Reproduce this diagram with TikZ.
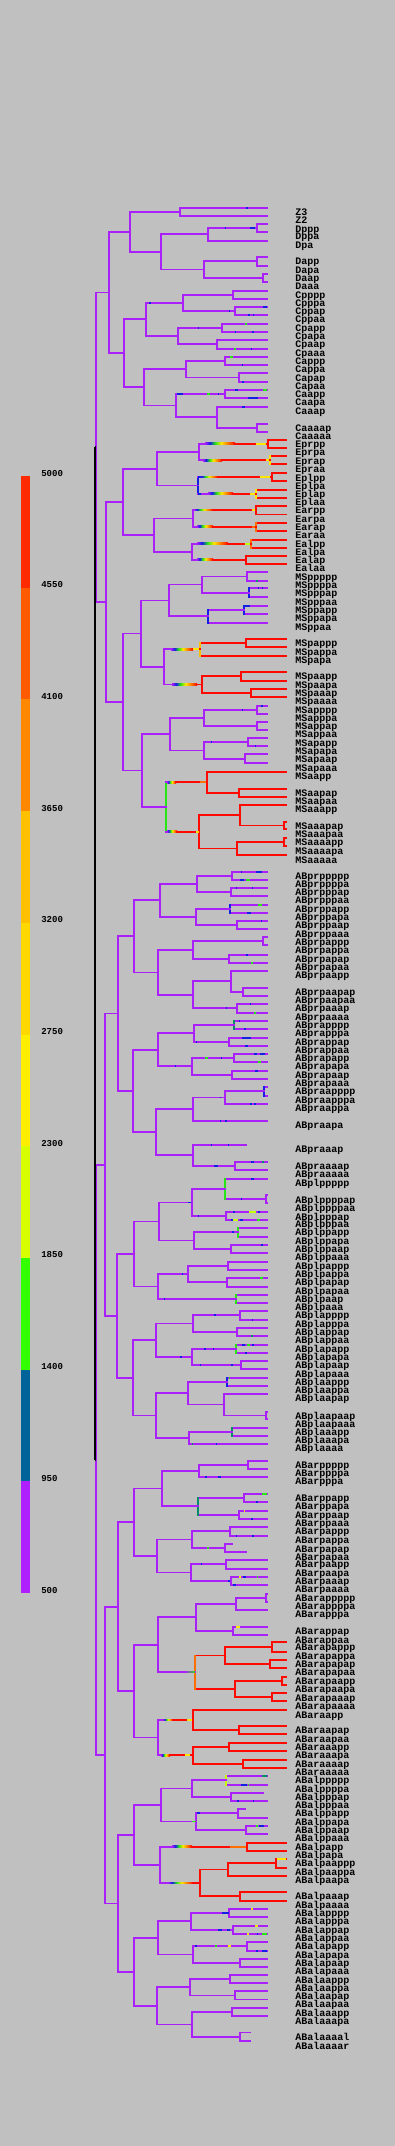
\documentclass[tikz,border=0pt]{standalone}
\usepackage{fontspec}
\usetikzlibrary{calc}
\newfontfamily\monofont{Liberation Mono}

\definecolor{bg}{RGB}{192,192,192}
\definecolor{cpu}{RGB}{170,32,250}
\definecolor{crd}{RGB}{255,10,0}
\definecolor{cbl}{RGB}{20,30,230}
\definecolor{cgn}{RGB}{40,230,20}
\definecolor{ctl}{RGB}{0,140,100}
\definecolor{cye}{RGB}{255,230,0}
\definecolor{cam}{RGB}{255,190,0}
\definecolor{cor}{RGB}{255,110,0}
\definecolor{cyg}{RGB}{200,255,0}
% colour scale, top to bottom
\definecolor{cb0}{RGB}{255,42,0}
\definecolor{cb1}{RGB}{255,90,0}
\definecolor{cb2}{RGB}{255,136,0}
\definecolor{cb3}{RGB}{255,192,0}
\definecolor{cb4}{RGB}{255,216,0}
\definecolor{cb5}{RGB}{255,238,0}
\definecolor{cb6}{RGB}{216,255,0}
\definecolor{cb7}{RGB}{51,255,0}
\definecolor{cb8}{RGB}{0,99,153}
\definecolor{cb9}{RGB}{176,32,255}

\pgfdeclarehorizontalshading{rainbow}{100bp}{color(0bp)=(cpu); color(25bp)=(cpu); color(33bp)=(cbl); color(42bp)=(cgn); color(52bp)=(cye); color(64bp)=(cor); color(75bp)=(crd); color(100bp)=(crd)}
\pgfdeclarehorizontalshading{pugn}{100bp}{color(0bp)=(cpu); color(25bp)=(cpu); color(75bp)=(cgn); color(100bp)=(cgn)}

\tikzset{
  br/.style={line width=1.25pt, line cap=rect},
  pu/.style={br, draw=cpu},
  rd/.style={br, draw=crd},
  bl/.style={br, draw=cbl},
  gn/.style={br, draw=cgn},
  tl/.style={br, draw=ctl},
  ye/.style={br, draw=cye},
  am/.style={br, draw=cam},
  or/.style={br, draw=cor},
  yg/.style={br, draw=cyg},
  blk/.style={line width=1.4pt, draw=black},
  lab/.style={anchor=base west, inner sep=0pt, font=\monofont\bfseries\fontsize{7.5}{9}\selectfont},
  num/.style={anchor=base west, inner sep=0pt, font=\monofont\bfseries\fontsize{6.8}{8}\selectfont},
}

% leaf: \lf[x end]{name}{y}
\newcommand{\lf}[3][267]{%
  \coordinate (#2) at (#1,#3);
  \node[lab] (t#2) at (295,#3+8) {#2};}
% branch point: \nd[vertical][horizontals]{name}{x}{child 1}{child 2}
\NewDocumentCommand{\nd}{O{pu} O{pu} m m m m}{%
  \path ($(#5)!.5!(#6)$) coordinate (#3m);
  \coordinate (#3) at (#3m -| #4,0);
  \draw[#2] (#3 |- #5) -- (#5);
  \draw[#2] (#3 |- #6) -- (#6);
  \draw[#1] (#3 |- #5) -- (#3 |- #6);}
% colour change along a branch: \grad[shading]{parent}{child}{x from}{x to}
\newcommand{\grad}[5][rainbow]{%
  \draw[pu] (#2 |- #3) -- (#4,0 |- #3);
  \shade[shading=#1] ($(#4,0 |- #3)+(0,-.83)$) rectangle ($(#5,0 |- #3)+(0,.83)$);
  \draw[rd] (#5,0 |- #3) -- (#3);}
% speck on a branch: \tk{child}{x from}{x to}{colour}
\newcommand{\tk}[4]{\draw[br, line cap=butt, draw=#4] (#2,0 |- #1) -- (#3,0 |- #1);}

\begin{document}
\begin{tikzpicture}[x=0.75pt,y=0.75pt,yscale=-1]
\fill[bg] (0,0) rectangle (395,2146);

% colour scale
\foreach \i in {0,...,9}
  \fill[cb\i] (21,{476+\i*111.7}) rectangle (30,{476+(\i+1)*111.7});
\foreach \v [count=\i from 0] in {5000,4550,...,500}
  \node[num] (s\i) at (41,{476+\i*111.7}) {\v};

% P2 lineages
\lf{Z3}{207.7} \lf{Z2}{215.7}
\lf{Dppp}{224} \lf{Dppa}{231.7} \lf{Dpa}{240.7}
\lf{Dapp}{256.7} \lf{Dapa}{265.7} \lf{Daap}{273.7} \lf{Daaa}{281.7}
\lf{Cpppp}{290.7} \lf{Cpppa}{298.7} \lf{Cppap}{306.7} \lf{Cppaa}{314.7}
\lf{Cpapp}{323.7} \lf{Cpapa}{331.7} \lf{Cpaap}{339.7} \lf{Cpaaa}{348.7}
\lf{Cappp}{356.7} \lf{Cappa}{364.7} \lf{Capap}{373.3} \lf{Capaa}{381.7}
\lf{Caapp}{389.7} \lf{Caapa}{397.7} \lf{Caaap}{406.7}
\lf{Caaaap}{423.7} \lf{Caaaaa}{431.7}
\nd{P4}{180}{Z3}{Z2}
\nd{Dpp}{256.7}{Dppp}{Dppa}
\nd{Dp}{207.7}{Dpp}{Dpa}
\nd{Dap}{256.7}{Dapp}{Dapa}
\nd{Daa}{263.3}{Daap}{Daaa}
\nd{Da}{204}{Dap}{Daa}
\nd{D}{161}{Dp}{Da}
\nd{P3}{130}{P4}{D}
\nd{Cppp}{233.3}{Cpppp}{Cpppa}
\nd{Cppa}{235.3}{Cppap}{Cppaa}
\nd{Cpp}{182.7}{Cppp}{Cppa}
\nd{Cpap}{222.3}{Cpapp}{Cpapa}
\nd{Cpaa}{217.3}{Cpaap}{Cpaaa}
\nd{Cpa}{177.7}{Cpap}{Cpaa}
\nd{Cp}{145.7}{Cpp}{Cpa}
\nd{Capp}{225}{Cappp}{Cappa}
\nd{Capa}{239}{Capap}{Capaa}
\nd{Cap}{185.7}{Capp}{Capa}
\nd{Caap}{225}{Caapp}{Caapa}
\nd{Caaaa}{256.7}{Caaaap}{Caaaaa}
\nd{Caaa}{216.7}{Caaap}{Caaaa}
\nd{Caa}{175.7}{Caap}{Caaa}
\nd{Ca}{144.3}{Cap}{Caa}
\nd{C}{124}{Cp}{Ca}
\nd{P2}{109}{P3}{C}
\tk{Z3}{246}{247.5}{cbl} \tk{Dpp}{224.5}{226}{cbl} \tk{Dpp}{250}{255}{cbl}
\tk{Cpp}{149}{151}{cbl} \tk{Cppa}{228.5}{230}{cbl} \tk{Cppap}{263}{267}{cbl}
\tk{Cppaa}{248}{250}{cbl} \tk{Cppaa}{253}{254}{cbl} \tk{Cpap}{198}{199}{cbl}
\tk{Cpapp}{245}{247}{cgn} \tk{Cpapa}{235}{236}{cbl} \tk{Cpapa}{252}{254}{cbl}
\tk{Cpaaa}{233.5}{235.5}{cgn} \tk{Cpaaa}{250.5}{252}{cbl}
\tk{Cappp}{230}{233}{cgn} \tk{Cappa}{241.5}{243}{cbl} \tk{Capaa}{242}{244}{cbl}
\tk{Caap}{177}{183}{cbl} \tk{Caap}{207}{209.5}{cgn} \tk{Caap}{218}{219}{cbl}
\tk{Caapp}{235}{238}{cbl} \tk{Caapp}{263}{267}{cgn} \tk{Caapa}{248}{258}{cbl}
\tk{Caaap}{242}{245}{cbl}

% E
\lf[286]{Eprpp}{439.7} \lf[286]{Eprpa}{447.7} \lf[286]{Eprap}{456.3} \lf[286]{Epraa}{464.3}
\lf[286]{Eplpp}{473} \lf[286]{Eplpa}{481} \lf[286]{Eplap}{489.7} \lf[286]{Eplaa}{497.7}
\lf[286]{Earpp}{505.7} \lf[286]{Earpa}{514.5} \lf[286]{Earap}{522.7} \lf[286]{Earaa}{530.7}
\lf[286]{Ealpp}{539.7} \lf[286]{Ealpa}{547.7} \lf[286]{Ealap}{555.7} \lf[286]{Ealaa}{563.7}
\nd[rd][rd]{Eprp}{267.7}{Eprpp}{Eprpa}
\nd[ye][rd]{Epra}{270}{Eprap}{Epraa}
\nd{Epr}{199.3}{Eprp}{Epra}
\nd[rd][rd]{Eplp}{271.7}{Eplpp}{Eplpa}
\nd[ye][rd]{Epla}{256}{Eplap}{Eplaa}
\nd[bl]{Epl}{197.7}{Eplp}{Epla}
\nd{Ep}{156.7}{Epr}{Epl}
\nd[rd][rd]{Earp}{256}{Earpp}{Earpa}
\nd[or][rd]{Eara}{256}{Earap}{Earaa}
\nd{Ear}{192.7}{Earp}{Eara}
\nd[or][rd]{Ealp}{250.7}{Ealpp}{Ealpa}
\nd[rd][rd]{Eala}{245.7}{Ealap}{Ealaa}
\nd{Eal}{191.7}{Ealp}{Eala}
\nd{Ea}{154}{Ear}{Eal}
\nd{E}{122.7}{Ep}{Ea}
\grad{Epr}{Eprp}{205}{235}
\grad{Epr}{Epra}{203}{222}
\grad{Epl}{Eplp}{199}{218}
\grad{Epl}{Epla}{208}{233}
\grad{Ear}{Earp}{194}{213}
\grad{Ear}{Eara}{197}{213}
\grad{Eal}{Ealp}{197}{228}
\grad{Eal}{Eala}{197}{213}
\tk{Eplp}{198}{200.5}{cbl} \tk{Epla}{198}{200.5}{cbl}
\tk{Eprp}{256}{266}{cye} \tk{Epra}{266}{269}{cye} \tk{Eplp}{260}{270}{cye}
\tk{Epla}{250}{255}{cye} \tk{Earp}{252}{255}{cye} \tk{Eara}{252}{255}{cor}
\tk{Ealp}{245}{249.5}{cyg}

% MS
\lf{MSppppp}{572.3} \lf{MSppppa}{580.7} \lf{MSpppap}{588.3} \lf{MSpppaa}{597.3}
\lf{MSppapp}{605.7} \lf{MSppapa}{613.7} \lf{MSppaa}{622.7}
\lf[286]{MSpappp}{638.7} \lf[286]{MSpappa}{647} \lf[286]{MSpapa}{655.7}
\lf[286]{MSpaapp}{671.7} \lf[286]{MSpaapa}{680.7} \lf[286]{MSpaaap}{688.7} \lf[286]{MSpaaaa}{696.7}
\lf{MSapppp}{705.7} \lf{MSapppa}{713.7} \lf{MSappap}{721.7} \lf{MSappaa}{729.7}
\lf{MSapapp}{738.3} \lf{MSapapa}{746.3} \lf{MSapaap}{754.3} \lf{MSapaaa}{763.3}
\lf[286]{MSaapp}{771.7} \lf[286]{MSaapap}{788.7} \lf[286]{MSaapaa}{796.7}
\lf[286]{MSaaapp}{804.7} \lf[286]{MSaaapap}{821.7} \lf[286]{MSaaapaa}{829.3}
\lf[286]{MSaaaapp}{837.7} \lf[286]{MSaaaapa}{846} \lf[286]{MSaaaaa}{855}
\nd{MSpppp}{246.7}{MSppppp}{MSppppa}
\nd[bl]{MSpppa}{248.7}{MSpppap}{MSpppaa}
\nd{MSppp}{201.7}{MSpppp}{MSpppa}
\nd[bl]{MSppap}{244.3}{MSppapp}{MSppapa}
\nd[bl]{MSppa}{208.3}{MSppap}{MSppaa}
\nd{MSpp}{169}{MSppp}{MSppa}
\nd[rd][rd]{MSpapp}{245.7}{MSpappp}{MSpappa}
\nd[am][rd]{MSpap}{200}{MSpapp}{MSpapa}
\nd[rd][rd]{MSpaap}{241}{MSpaapp}{MSpaapa}
\nd[rd][rd]{MSpaaa}{250.7}{MSpaaap}{MSpaaaa}
\nd[rd][rd]{MSpaa}{201.7}{MSpaap}{MSpaaa}
\nd{MSpa}{164.3}{MSpap}{MSpaa}
\nd{MSp}{141}{MSpp}{MSpa}
\nd{MSappp}{256.7}{MSapppp}{MSapppa}
\nd{MSappa}{256.7}{MSappap}{MSappaa}
\nd{MSapp}{204.3}{MSappp}{MSappa}
\nd{MSapap}{247.7}{MSapapp}{MSapapa}
\nd{MSapaa}{245}{MSapaap}{MSapaaa}
\nd{MSapa}{204.3}{MSapap}{MSapaa}
\nd{MSap}{170}{MSapp}{MSapa}
\nd[rd][rd]{MSaapa}{239}{MSaapap}{MSaapaa}
\nd[rd][rd]{MSaap}{206.7}{MSaapp}{MSaapa}
\nd[rd][rd]{MSaaapa}{284.3}{MSaaapap}{MSaaapaa}
\nd[rd][rd]{MSaaap}{240}{MSaaapp}{MSaaapa}
\nd[rd][rd]{MSaaaap}{284.3}{MSaaaapp}{MSaaaapa}
\nd[rd][rd]{MSaaaa}{236.7}{MSaaaap}{MSaaaaa}
\nd[rd][rd]{MSaaa}{199.3}{MSaaap}{MSaaaa}
\nd[gn]{MSaa}{165.7}{MSaap}{MSaaa}
\nd{MSa}{141.7}{MSap}{MSaa}
\nd{MS}{122.7}{MSp}{MSa}
\grad{MSpa}{MSpap}{171}{193}
\grad{MSpa}{MSpaa}{172}{197}
\grad{MSaa}{MSaap}{167}{176}
\grad{MSaa}{MSaaa}{167}{177}
\tk{MSpap}{193}{199}{cye} \tk{MSaap}{200}{206}{cor} \tk{MSaaa}{196}{199}{cye}
\tk{MSppppa}{256}{258}{ctl} \tk{MSpppap}{257.5}{259}{cbl} \tk{MSpppap}{262}{263}{cbl}
\tk{MSppapp}{245}{250}{cbl} \tk{MSapppp}{261}{263}{cbl} \tk{MSappp}{242}{243}{cbl}
\tk{MSapap}{211}{212}{cbl} \tk{MSapapa}{255}{256}{cbl}
\nd{EMS}{105.7}{E}{MS}
\nd{P1}{96}{P2}{EMS}

% ABpr
\lf{ABprppppp}{871.7} \lf{ABprppppa}{879.7} \lf{ABprpppap}{887.7} \lf{ABprpppaa}{895.7}
\lf{ABprppapp}{904.7} \lf{ABprppapa}{912.7} \lf{ABprppaap}{920.7} \lf{ABprppaaa}{929}
\lf{ABprpappp}{937.3} \lf{ABprpappa}{945.3} \lf{ABprpapap}{954.7} \lf{ABprpapaa}{962.7}
\lf{ABprpaapp}{970.7} \lf{ABprpaapap}{987.7} \lf{ABprpaapaa}{995.7}
\lf{ABprpaaap}{1003.7} \lf{ABprpaaaa}{1012.7}
\lf{ABprapppp}{1020.7} \lf{ABprapppa}{1028.7} \lf{ABprappap}{1037.7} \lf{ABprappaa}{1045.7}
\lf{ABprapapp}{1053.7} \lf{ABprapapa}{1061.7} \lf{ABprapaap}{1070.7} \lf{ABprapaaa}{1078.7}
\lf{ABpraapppp}{1086.7} \lf{ABpraapppa}{1095.7} \lf{ABpraappa}{1103.7} \lf{ABpraapa}{1120.7}
\lf[245.7]{ABpraaap}{1144.7} \lf{ABpraaaap}{1161.7} \lf{ABpraaaaa}{1169.7}
\nd{ABprpppp}{231.7}{ABprppppp}{ABprppppa}
\nd{ABprpppa}{230.7}{ABprpppap}{ABprpppaa}
\nd{ABprppp}{196.7}{ABprpppp}{ABprpppa}
\nd[bl]{ABprppap}{230}{ABprppapp}{ABprppapa}
\nd{ABprppaa}{236.7}{ABprppaap}{ABprppaaa}
\nd{ABprppa}{195.7}{ABprppap}{ABprppaa}
\nd{ABprpp}{160}{ABprppp}{ABprppa}
\nd{ABprpapp}{263.3}{ABprpappp}{ABprpappa}
\nd{ABprpapa}{228.7}{ABprpapap}{ABprpapaa}
\nd{ABprpap}{192.7}{ABprpapp}{ABprpapa}
\nd{ABprpaapa}{242.7}{ABprpaapap}{ABprpaapaa}
\nd{ABprpaap}{230.7}{ABprpaapp}{ABprpaapa}
\nd{ABprpaaa}{236.7}{ABprpaaap}{ABprpaaaa}
\nd{ABprpaa}{192.7}{ABprpaap}{ABprpaaa}
\nd{ABprpa}{157.7}{ABprpap}{ABprpaa}
\nd{ABprp}{134}{ABprpp}{ABprpa}
\nd[tl]{ABprappp}{234.3}{ABprapppp}{ABprapppa}
\nd{ABprappa}{228.7}{ABprappap}{ABprappaa}
\nd{ABprapp}{194.3}{ABprappp}{ABprappa}
\nd{ABprapap}{234.3}{ABprapapp}{ABprapapa}
\nd{ABprapaa}{231.7}{ABprapaap}{ABprapaaa}
\nd{ABprapa}{191.7}{ABprapap}{ABprapaa}
\nd{ABprap}{157.7}{ABprapp}{ABprapa}
\nd[bl]{ABpraappp}{264.3}{ABpraapppp}{ABpraapppa}
\nd{ABpraapp}{225}{ABpraappp}{ABpraappa}
\nd{ABpraap}{192.7}{ABpraapp}{ABpraapa}
\nd{ABpraaaa}{235}{ABpraaaap}{ABpraaaaa}
\nd{ABpraaa}{193.3}{ABpraaap}{ABpraaaa}
\nd{ABpraa}{155.7}{ABpraap}{ABpraaa}
\nd{ABpra}{133.3}{ABprap}{ABpraa}
\nd{ABpr}{117.7}{ABprp}{ABpra}
\tk{ABprppppp}{241}{242}{cbl} \tk{ABprppppp}{256}{262}{cbl}
\tk{ABprppppa}{240}{244}{cbl} \tk{ABprppppa}{246}{250}{cgn}
\tk{ABprpppap}{236}{237}{cbl} \tk{ABprpppap}{252}{253}{cbl}
\tk{ABprppapp}{258}{262}{cgn} \tk{ABprppapa}{247}{251}{cbl} \tk{ABprppaap}{261}{262}{cbl}
\tk{ABprpapap}{246}{248}{cbl} \tk{ABprpapaa}{251}{253}{cgn}
\tk{ABprpaaa}{225.5}{227}{cbl} \tk{ABprpaaap}{250}{251}{cbl} \tk{ABprpaaaa}{254}{255.5}{cgn}
\tk{ABprapppp}{239}{240}{cbl} \tk{ABprapppa}{244}{246}{cbl} \tk{ABprappa}{196}{197}{cbl}
\tk{ABprappap}{242}{251}{cbl} \tk{ABprappaa}{245}{248}{cbl} \tk{ABprapa}{175}{176}{cbl}
\tk{ABprapap}{205}{208}{cgn} \tk{ABprapap}{221}{222}{cbl}
\tk{ABprapapp}{254}{257}{cbl} \tk{ABprapapp}{260}{265}{cbl} \tk{ABprapapa}{258}{261}{cgn}
\tk{ABprapaap}{255}{258}{cbl} \tk{ABpraapp}{220}{221}{cbl}
\tk{ABpraappa}{250}{252}{cbl} \tk{ABpraappa}{254}{256}{cbl}
\tk{ABpraapa}{220}{221}{cbl} \tk{ABpraapa}{225}{227}{cbl}
\tk{ABpraaap}{211}{212}{cbl} \tk{ABpraaap}{228}{229}{cbl}
\tk{ABpraaaap}{251}{254}{cbl} \tk{ABpraaaap}{262}{264}{ctl} \tk{ABpraaaa}{214}{218}{cbl}

% ABpl
\lf{ABplppppp}{1178.7} \lf{ABplppppap}{1195.3} \lf{ABplppppaa}{1203.3}
\lf{ABplpppap}{1212} \lf{ABplpppaa}{1219.7}
\lf{ABplppapp}{1227.7} \lf{ABplppapa}{1236.7} \lf{ABplppaap}{1244.7} \lf{ABplppaaa}{1252.7}
\lf{ABplpappp}{1261.7} \lf{ABplpappa}{1269.7} \lf{ABplpapap}{1277.7} \lf{ABplpapaa}{1286.7}
\lf{ABplpaap}{1294.7} \lf{ABplpaaa}{1302.7}
\lf{ABplapppp}{1310.7} \lf{ABplapppa}{1319.7} \lf{ABplappap}{1327.7} \lf{ABplappaa}{1335.7}
\lf{ABplapapp}{1344.7} \lf{ABplapapa}{1352.7} \lf{ABplapaap}{1360.7} \lf{ABplapaaa}{1369.3}
\lf{ABplaappp}{1377.7} \lf{ABplaappa}{1385.7} \lf{ABplaapap}{1393.7}
\lf{ABplaapaap}{1411.7} \lf{ABplaapaaa}{1419}
\lf{ABplaaapp}{1427.7} \lf{ABplaaapa}{1435.7} \lf{ABplaaaa}{1443.7}
\nd{ABplppppa}{266}{ABplppppap}{ABplppppaa}
\nd[gn]{ABplpppp}{225}{ABplppppp}{ABplppppa}
\nd{ABplpppa}{225.7}{ABplpppap}{ABplpppaa}
\nd{ABplppp}{191.7}{ABplpppp}{ABplpppa}
\nd[gn]{ABplppap}{237.7}{ABplppapp}{ABplppapa}
\nd{ABplppaa}{230.7}{ABplppaap}{ABplppaaa}
\nd{ABplppa}{194.3}{ABplppap}{ABplppaa}
\nd{ABplpp}{159}{ABplppp}{ABplppa}
\nd{ABplpapp}{227.7}{ABplpappp}{ABplpappa}
\nd{ABplpapa}{226.7}{ABplpapap}{ABplpapaa}
\nd{ABplpap}{187.7}{ABplpapp}{ABplpapa}
\nd[gn]{ABplpaa}{236}{ABplpaap}{ABplpaaa}
\nd{ABplpa}{157.7}{ABplpap}{ABplpaa}
\nd{ABplp}{134}{ABplpp}{ABplpa}
\nd{ABplappp}{240}{ABplapppp}{ABplapppa}
\nd{ABplappa}{236.7}{ABplappap}{ABplappaa}
\nd{ABplapp}{193.3}{ABplappp}{ABplappa}
\nd[gn]{ABplapap}{235.7}{ABplapapp}{ABplapapa}
\nd{ABplapaa}{240.7}{ABplapaap}{ABplapaaa}
\nd{ABplapa}{191.7}{ABplapap}{ABplapaa}
\nd{ABplap}{155.7}{ABplapp}{ABplapa}
\nd[bl]{ABplaapp}{226.7}{ABplaappp}{ABplaappa}
\nd{ABplaapaa}{265.7}{ABplaapaap}{ABplaapaaa}
\nd{ABplaapa}{224.3}{ABplaapap}{ABplaapaa}
\nd{ABplaap}{187.7}{ABplaapp}{ABplaapa}
\nd[tl]{ABplaaap}{231.7}{ABplaaapp}{ABplaaapa}
\nd{ABplaaa}{189.3}{ABplaaap}{ABplaaaa}
\nd{ABplaa}{155.7}{ABplaap}{ABplaaa}
\nd{ABpla}{132.7}{ABplap}{ABplaa}
\nd{ABpl}{116.7}{ABplp}{ABpla}
\nd{ABp}{105}{ABpr}{ABpl}
\tk{ABplppp}{188}{191}{cbl} \tk{ABplppppp}{251}{254}{cbl} \tk{ABplppppa}{241}{242}{cbl}
\tk{ABplpppap}{233}{235}{cbl} \tk{ABplpppap}{249}{256}{cyg} \tk{ABplpppap}{258}{260}{cbl}
\tk{ABplpppaa}{231}{233}{cbl} \tk{ABplpppaa}{233}{238}{cyg} \tk{ABplpppaa}{240}{243}{cbl}
\tk{ABplpppaa}{257}{260}{cgn} \tk{ABplpppa}{198}{199}{cbl} \tk{ABplppap}{232}{234}{cbl}
\tk{ABplppaap}{261}{263}{cbl} \tk{ABplpapap}{260}{263}{cgn} \tk{ABplpap}{182}{183}{cbl}
\tk{ABplpaa}{164}{165}{cbl} \tk{ABplappp}{214}{216}{cbl} \tk{ABplapppa}{252}{253}{cbl}
\tk{ABplappaa}{251}{253}{ctl} \tk{ABplapa}{180}{182}{cbl}
\tk{ABplapap}{204}{206}{cbl} \tk{ABplapap}{213}{214}{cbl}
\tk{ABplapapp}{242}{245}{cbl} \tk{ABplapapp}{247}{250}{cgn} \tk{ABplapapp}{252}{254}{cbl}
\tk{ABplapapa}{245}{247}{cbl} \tk{ABplapaa}{200}{201}{cbl} \tk{ABplapaa}{231}{233}{cbl}
\tk{ABplaappp}{229}{230}{cgn} \tk{ABplaaaa}{192}{193}{ctl} \tk{ABplaaaa}{216}{217}{cbl}

% ABar
\lf{ABarppppp}{1460.7} \lf{ABarppppa}{1468.7} \lf{ABarpppa}{1476.7}
\lf{ABarppapp}{1493.7} \lf{ABarppapa}{1501.7} \lf{ABarppaap}{1510.7} \lf{ABarppaaa}{1518.7}
\lf{ABarpappp}{1526.7} \lf{ABarpappa}{1535.7} \lf[231.7]{ABarpapap}{1544} \lf[245.7]{ABarpapaa}{1552}
\lf{ABarpaapp}{1559.7} \lf{ABarpaapa}{1568.7} \lf{ABarpaaap}{1576.7} \lf{ABarpaaaa}{1584.7}
\lf{ABarappppp}{1593.7} \lf{ABarappppa}{1601.7} \lf{ABarapppa}{1609.7}
\lf{ABarappap}{1626.7} \lf{ABarappaa}{1635}
\lf[286]{ABarapappp}{1642.3} \lf[286]{ABarapappa}{1651.7} \lf[286]{ABarapapap}{1659.7} \lf[286]{ABarapapaa}{1667.7}
\lf[286]{ABarapaapp}{1676.7} \lf[286]{ABarapaapa}{1684.7} \lf[286]{ABarapaaap}{1693} \lf[286]{ABarapaaaa}{1701.3}
\lf[286]{ABaraapp}{1710} \lf[286]{ABaraapap}{1725.7} \lf[286]{ABaraapaa}{1734.3}
\lf[286]{ABaraaapp}{1742.7} \lf[286]{ABaraaapa}{1750.7} \lf[286]{ABaraaaap}{1759.7} \lf[286]{ABaraaaaa}{1767.7}
\nd{ABarpppp}{248.3}{ABarppppp}{ABarppppa}
\nd{ABarppp}{199}{ABarpppp}{ABarpppa}
\nd{ABarppap}{244}{ABarppapp}{ABarppapa}
\nd{ABarppaa}{239}{ABarppaap}{ABarppaaa}
\nd[tl]{ABarppa}{197.7}{ABarppap}{ABarppaa}
\nd{ABarpp}{161.7}{ABarppp}{ABarppa}
\nd{ABarpapp}{230}{ABarpappp}{ABarpappa}
\nd{ABarpapa}{225}{ABarpapap}{ABarpapaa}
\nd{ABarpap}{191.7}{ABarpapp}{ABarpapa}
\nd{ABarpaap}{225.7}{ABarpaapp}{ABarpaapa}
\nd{ABarpaaa}{230.7}{ABarpaaap}{ABarpaaaa}
\nd{ABarpaa}{190.7}{ABarpaap}{ABarpaaa}
\nd{ABarpa}{156.7}{ABarpap}{ABarpaa}
\nd{ABarp}{134}{ABarpp}{ABarpa}
\nd{ABarapppp}{265.7}{ABarappppp}{ABarappppa}
\nd{ABarappp}{235.7}{ABarapppp}{ABarapppa}
\nd{ABarappa}{233.3}{ABarappap}{ABarappaa}
\nd{ABarapp}{195.7}{ABarappp}{ABarappa}
\nd[rd][rd]{ABarapapp}{271.7}{ABarapappp}{ABarapappa}
\nd[rd][rd]{ABarapapa}{270}{ABarapapap}{ABarapapaa}
\nd[rd][rd]{ABarapap}{225}{ABarapapp}{ABarapapa}
\nd[rd][rd]{ABarapaap}{282.3}{ABarapaapp}{ABarapaapa}
\nd[rd][rd]{ABarapaaa}{271.7}{ABarapaaap}{ABarapaaaa}
\nd[rd][rd]{ABarapaa}{235}{ABarapaap}{ABarapaaa}
\nd[or][rd]{ABarapa}{195}{ABarapap}{ABarapaa}
\nd{ABarap}{157.7}{ABarapp}{ABarapa}
\nd[rd][rd]{ABaraapa}{239}{ABaraapap}{ABaraapaa}
\nd[rd][rd]{ABaraap}{193.3}{ABaraapp}{ABaraapa}
\nd[rd][rd]{ABaraaap}{228.7}{ABaraaapp}{ABaraaapa}
\nd[rd][rd]{ABaraaaa}{242.7}{ABaraaaap}{ABaraaaaa}
\nd[rd][rd]{ABaraaa}{193.3}{ABaraaap}{ABaraaaa}
\nd{ABaraa}{158.3}{ABaraap}{ABaraaa}
\nd{ABara}{134.3}{ABarap}{ABaraa}
\nd{ABar}{117.7}{ABarp}{ABara}
\grad[pugn]{ABarap}{ABarapa}{185}{195}
\grad{ABaraa}{ABaraap}{163}{173}
\grad{ABaraa}{ABaraaa}{161}{170}
\tk{ABaraap}{187}{192}{cye} \tk{ABaraaa}{185}{190}{cye}
\tk{ABarpppa}{205}{207}{cbl} \tk{ABarpppa}{218}{221}{cbl} \tk{ABarppapp}{262}{267}{cgn}
\tk{ABarppapa}{256}{258}{cbl} \tk{ABarppaap}{244}{245}{cye} \tk{ABarppaaa}{251}{253}{cbl}
\tk{ABarpappa}{236}{237}{cbl} \tk{ABarpappa}{252}{254}{cbl} \tk{ABarpapa}{207}{209}{cgn}
\tk{ABarpaap}{201}{202}{cbl} \tk{ABarpaaa}{228}{230}{cbl}
\tk{ABarpaaap}{239}{241}{cye} \tk{ABarpaaap}{243}{246}{cbl} \tk{ABarpaaap}{257}{258}{cgn}
\tk{ABarpaaaa}{233}{236}{cbl} \tk{ABarappap}{236}{240}{cye}

% ABal
\lf{ABalppppp}{1775.7} \lf{ABalppppa}{1784.7} \lf[262.7]{ABalpppap}{1792.7} \lf{ABalpppaa}{1800.7}
\lf[245]{ABalppapp}{1808.7} \lf{ABalppapa}{1817.7} \lf{ABalppaap}{1825.7} \lf{ABalppaaa}{1833.7}
\lf[286]{ABalpapp}{1842.7} \lf[286]{ABalpapa}{1850.7}
\lf[286]{ABalpaappp}{1858.7} \lf[286]{ABalpaappa}{1867.7} \lf[286]{ABalpaapa}{1875.7}
\lf[286]{ABalpaaap}{1891.7} \lf[286]{ABalpaaaa}{1900.7}
\lf{ABalapppp}{1908.7} \lf{ABalapppa}{1916.7} \lf{ABalappap}{1925.7} \lf{ABalappaa}{1933.7}
\lf{ABalapapp}{1941.7} \lf{ABalapapa}{1950.7} \lf{ABalapaap}{1958.7} \lf{ABalapaaa}{1966.7}
\lf{ABalaappp}{1975} \lf{ABalaappa}{1983} \lf{ABalaapap}{1991.3} \lf{ABalaapaa}{1999.6}
\lf{ABalaaapp}{2008} \lf{ABalaaapa}{2016}
\lf[250]{ABalaaaal}{2032.6} \lf[250]{ABalaaaar}{2041}
\nd[yg]{ABalpppp}{225.7}{ABalppppp}{ABalppppa}
\nd{ABalpppa}{230.7}{ABalpppap}{ABalpppaa}
\nd{ABalppp}{191.7}{ABalpppp}{ABalpppa}
\nd{ABalppap}{237.7}{ABalppapp}{ABalppapa}
\nd{ABalppaa}{245.7}{ABalppaap}{ABalppaaa}
\nd{ABalppa}{195.7}{ABalppap}{ABalppaa}
\nd{ABalpp}{161}{ABalppp}{ABalppa}
\nd[rd][rd]{ABalpap}{246.7}{ABalpapp}{ABalpapa}
\nd[rd][rd]{ABalpaapp}{276}{ABalpaappp}{ABalpaappa}
\nd[rd][rd]{ABalpaap}{227.7}{ABalpaapp}{ABalpaapa}
\nd[rd][rd]{ABalpaaa}{240}{ABalpaaap}{ABalpaaaa}
\nd[rd][rd]{ABalpaa}{200}{ABalpaap}{ABalpaaa}
\nd{ABalpa}{160}{ABalpap}{ABalpaa}
\nd{ABalp}{134}{ABalpp}{ABalpa}
\grad{ABalpa}{ABalpap}{172}{192}
\grad{ABalpa}{ABalpaa}{168}{193}
\nd{ABalappp}{229.3}{ABalapppp}{ABalapppa}
\nd{ABalappa}{232.7}{ABalappap}{ABalappaa}
\nd{ABalapp}{190.7}{ABalappp}{ABalappa}
\nd{ABalapap}{246.7}{ABalapapp}{ABalapapa}
\nd{ABalapaa}{240}{ABalapaap}{ABalapaaa}
\nd{ABalapa}{193.3}{ABalapap}{ABalapaa}
\nd{ABalap}{157.7}{ABalapp}{ABalapa}
\nd{ABalaapp}{230}{ABalaappp}{ABalaappa}
\nd{ABalaapa}{235}{ABalaapap}{ABalaapaa}
\nd{ABalaap}{190}{ABalaapp}{ABalaapa}
\nd{ABalaaap}{232}{ABalaaapp}{ABalaaapa}
\nd{ABalaaaa}{240}{ABalaaaal}{ABalaaaar}
\nd{ABalaaa}{192}{ABalaaap}{ABalaaaa}
\nd{ABalaa}{157}{ABalaap}{ABalaaa}
\nd{ABala}{134}{ABalap}{ABalaa}
\nd{ABal}{117.7}{ABalp}{ABala}
\nd{ABa}{105}{ABar}{ABal}
\nd{AB}{96}{ABp}{ABa}
\tk{ABalppppp}{262}{267}{ctl} \tk{ABalppppa}{241}{247}{cbl} \tk{ABalppppa}{248}{249}{cgn}
\tk{ABalpppaa}{237}{239}{cbl} \tk{ABalpppaa}{253}{254}{cbl} \tk{ABalppap}{197}{200}{cbl}
\tk{ABalppa}{191.5}{195.5}{cgn} \tk{ABalppaap}{256}{258}{cgn} \tk{ABalppaap}{259}{264}{cbl}
\tk{ABalpap}{230}{246}{cor} \tk{ABalpaappp}{277}{286}{cye}
\tk{ABalapppp}{251}{253}{cye} \tk{ABalappp}{222}{229}{cbl}
\tk{ABalappa}{218}{222}{cbl} \tk{ABalappa}{227}{230}{cbl} \tk{ABalappap}{255}{258}{cye}
\tk{ABalappaa}{247}{249}{cye} \tk{ABalappaa}{257}{258}{cbl} \tk{ABalappaa}{262}{267}{cgn}
\tk{ABalapap}{195}{197}{cbl} \tk{ABalapap}{215}{217}{cgn} \tk{ABalapap}{228}{231}{cye}
\tk{ABalapapa}{256}{258}{cbl} \tk{ABalapapa}{262}{267}{cbl}

% root
\nd[blk][blk]{P0}{94.7}{P1}{AB}
\end{tikzpicture}
\end{document}
